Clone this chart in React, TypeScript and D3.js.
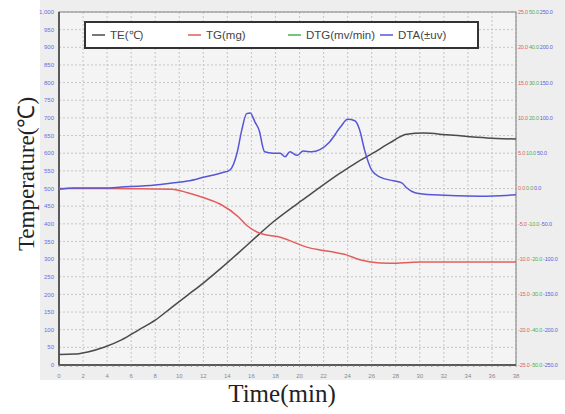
import React from "react";
import * as d3 from "d3";

// TE (temperature, left axis)
const teTime = [0, 1.3, 2.4, 3.8, 5.2, 6.6, 8.0, 9.4, 10.7, 12.1, 13.5, 14.9, 16.3, 17.8, 20.6, 23.4, 24.8, 26.1, 27.5, 28.9, 30.3, 32.3, 35.6, 38];
const teTemp = [30, 31, 37, 51, 71, 99, 127, 164, 198, 235, 275, 317, 360, 405, 476, 544, 575, 600, 629, 654, 657, 652, 643, 640];

// TG (mg, red right axis)
const tgTime = [0, 3.8, 9.4, 10.7, 12.1, 13.5, 14.9, 15.6, 16.5, 17.3, 18.4, 19.5, 20.6, 21.7, 22.8, 23.9, 25.0, 25.9, 27.5, 30.0, 38];
const tgMass = [0, 0, -0.1, -0.6, -1.35, -2.3, -4.0, -5.2, -6.2, -6.6, -6.9, -7.6, -8.3, -8.7, -9.0, -9.4, -10.1, -10.4, -10.6, -10.4, -10.4];

// DTA (uv, blue right axis)
const dtaTime = [0, 1.3, 3.8, 5.2, 8.0, 9.4, 10.7, 12.1, 13.5, 14.2, 14.8, 15.2, 15.6, 15.9, 16.3, 16.7, 16.9, 17.1, 17.8, 18.4, 18.8, 19.2, 19.8, 20.3, 21.0, 21.7, 22.5, 23.4, 24.0, 24.6, 25.0, 25.4, 26.0, 26.7, 27.8, 28.5, 28.9, 29.6, 31.1, 35.0, 38];
const dtaVal = [-1, 0.7, 0.7, 2, 5, 7.8, 10.6, 16.3, 22, 26, 50, 83, 106, 107, 94, 79, 62, 52, 50, 50, 45, 52, 47, 53, 52, 55, 66, 87, 98, 96, 83, 55, 26, 16, 11, 8, 1, -6, -9, -11, -9];

const timeTicks = d3.range(0, 39, 2);
const tempTicks = d3.range(0, 1001, 50);
const tgTicks = d3.range(25, -26, -5);
const dtgTicks = d3.range(50, -51, -10);
const dtaTicks = d3.range(250, -251, -50);

const legendItems = [
  { label: "TE(℃)", color: "#4a4a4a" },
  { label: "TG(mg)", color: "#e35d5d" },
  { label: "DTG(mv/min)", color: "#4caf50" },
  { label: "DTA(±uv)", color: "#5656d8" },
];
const legendX = [92, 188, 288, 380];

const W = 565;
const H = 414;
const L = 59, R = 516, T = 12, B = 365;

export default function App() {
  const x = d3.scaleLinear().domain([0, 38]).range([L, R]);
  const y = d3.scaleLinear().domain([0, 1000]).range([B, T]);
  const yTG = d3.scaleLinear().domain([-25, 25]).range([B, T]);
  const yDTA = d3.scaleLinear().domain([-250, 250]).range([B, T]);

  const mk = (ts: number[], vs: number[], ys: d3.ScaleLinear<number, number>) =>
    d3
      .line<number>()
      .x((_, i) => x(ts[i]))
      .y((v) => ys(v))
      .curve(d3.curveMonotoneX)(vs) || "";

  const fmtLeft = d3.format(",");
  const small = "Liberation Sans, Arial, sans-serif";

  return (
    <svg width={W} height={H} style={{ position: "absolute", left: 0, top: 0 }}>
      <rect x={40} y={0} width={W - 40} height={380} fill="#eeeeee" />
      <rect x={L} y={T} width={R - L} height={B - T} fill="#f4f4f4" />

      {/* grid */}
      {tempTicks.map((t) => (
        <line key={"h" + t} x1={L} x2={R} y1={y(t)} y2={y(t)} stroke="#c6c6c6" strokeDasharray="2,2" />
      ))}
      {timeTicks.map((t) => (
        <line key={"v" + t} x1={x(t)} x2={x(t)} y1={T} y2={B} stroke="#c6c6c6" strokeDasharray="2,2" />
      ))}

      {/* frame */}
      <rect x={L} y={T} width={R - L} height={B - T} fill="none" stroke="#808080" strokeWidth={1} />
      <line x1={L} x2={L} y1={T} y2={B} stroke="#5a5a5a" strokeWidth={2} />
      <line x1={L} x2={R} y1={B} y2={B} stroke="#5a5a5a" strokeWidth={2} />
      {d3.range(0, 38.01, 0.5).map((t) => (
        <line key={"mt" + t} x1={x(t)} x2={x(t)} y1={B} y2={B + 2} stroke="#777" strokeWidth={0.8} />
      ))}

      {/* left ticks */}
      {tempTicks.map((t) => (
        <text key={"lt" + t} x={54} y={y(t)} dy="0.35em" textAnchor="end" fontSize={6} fill="#6c6ce0" fontFamily={small}>
          {fmtLeft(t)}
        </text>
      ))}

      {/* bottom ticks */}
      {timeTicks.map((t) => (
        <text key={"bt" + t} x={x(t)} y={376} dy="0.35em" textAnchor="middle" fontSize={6} fill="#8a8a8a" fontFamily={small}>
          {t}
        </text>
      ))}

      {/* right ticks */}
      {tgTicks.map((t, i) => (
        <text key={"rt" + t} x={518} y={yTG(t)} dy="0.35em" fontSize={5.5} fontFamily={small} letterSpacing={-0.2}>
          <tspan fill="#e06060">{t.toFixed(1)}</tspan>
          <tspan fill="#4caf50" dx={1}>{dtgTicks[i].toFixed(1)}</tspan>
          <tspan fill="#5c5ce0" dx={1}>{dtaTicks[i].toFixed(1)}</tspan>
        </text>
      ))}

      {/* series */}
      <path d={mk(teTime, teTemp, y)} fill="none" stroke="#4a4a4a" strokeWidth={1.5} />
      <path d={mk(tgTime, tgMass, yTG)} fill="none" stroke="#e35d5d" strokeWidth={1.5} />
      <path d={mk(dtaTime, dtaVal, yDTA)} fill="none" stroke="#5656d8" strokeWidth={1.5} />

      {/* legend */}
      <rect x={85} y={22} width={393} height={26} fill="#ffffff" stroke="#333" strokeWidth={2} />
      {legendItems.map((d, i) => (
        <g key={d.label}>
          <line x1={legendX[i]} x2={legendX[i] + 13} y1={35} y2={35} stroke={d.color} strokeWidth={1.5} />
          <text x={legendX[i] + 18} y={35} dy="0.35em" fontSize={11.5} fill="#444" fontFamily={small}>
            {d.label}
          </text>
        </g>
      ))}

      {/* titles */}
      <text x={282} y={402} textAnchor="middle" fontSize={25} fill="#222" fontFamily="Liberation Serif, Times New Roman, serif">
        Time(min)
      </text>
      <text
        transform="translate(34,174) rotate(-90)"
        textAnchor="middle"
        fontSize={23}
        fill="#222"
        fontFamily="Liberation Serif, Times New Roman, serif"
      >
        Temperature(℃)
      </text>
    </svg>
  );
}
